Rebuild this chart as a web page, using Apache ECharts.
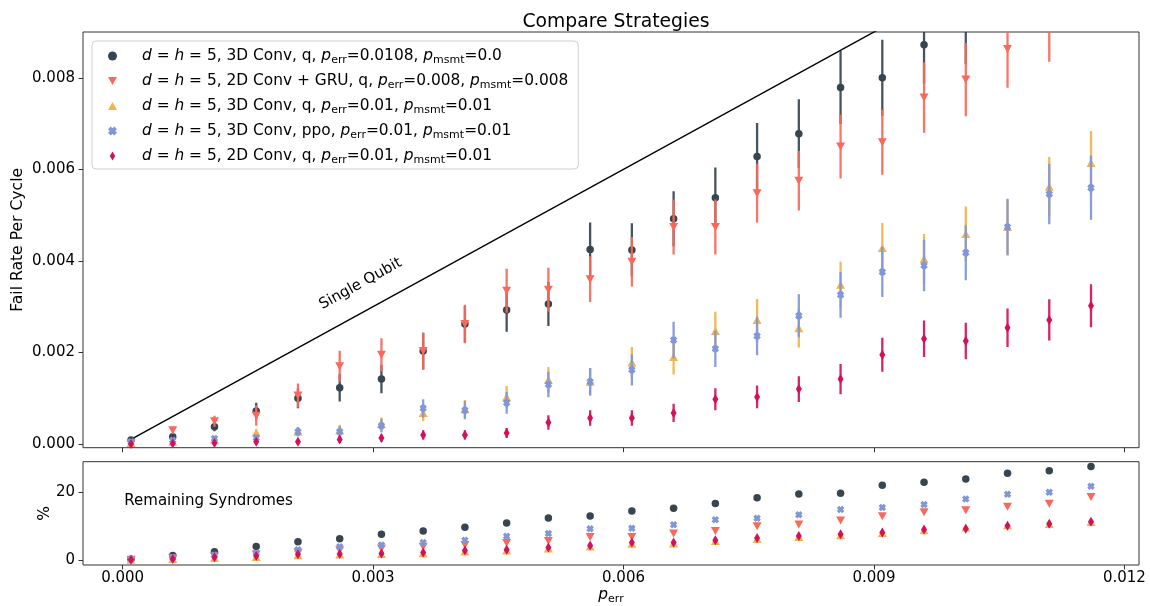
<!DOCTYPE html>
<html>
<head>
<meta charset="utf-8">
<script src="https://cdn.jsdelivr.net/npm/echarts@6/dist/echarts.min.js"></script>
<style>
html,body{margin:0;padding:0;background:#fff;}
#c{width:1150px;height:606px;}
</style>
</head>
<body>
<div id="c"></div>
<script>
// ---------------- data ----------------
const pErr = [0.0001,0.0006,0.0011,0.0016,0.0021,0.0026,0.0031,0.0036,0.0041,0.0046,0.0051,0.0056,
              0.0061,0.0066,0.0071,0.0076,0.0081,0.0086,0.0091,0.0096,0.0101,0.0106,0.0111,0.0116];

// fail rate per cycle (mean) and error (half-length of bar)
const failA = [0.00009,0.00016,0.00038,0.00072,0.00100,0.00123,0.00142,0.00203,0.00262,0.00293,0.00306,0.00425,
               0.00424,0.00492,0.00538,0.00628,0.00678,0.00779,0.00800,0.00872,0.00920,0.01010,0.01040,0.01080];
const errA  = [0.00003,0.00006,0.00010,0.00018,0.00022,0.00030,0.00031,0.00040,0.00040,0.00048,0.00048,0.00059,
               0.00058,0.00060,0.00066,0.00073,0.00075,0.00080,0.00083,0.00085,0.00090,0.00090,0.00095,0.00095];
const failB = [0.00002,0.00030,0.00050,0.00062,0.00106,0.00170,0.00195,0.00203,0.00262,0.00335,0.00337,0.00360,
               0.00398,0.00474,0.00474,0.00548,0.00575,0.00650,0.00659,0.00757,0.00796,0.00863,0.00920,0.01000];
const errB  = [0.00002,0.00008,0.00012,0.00022,0.00026,0.00034,0.00036,0.00040,0.00042,0.00048,0.00048,0.00050,
               0.00054,0.00060,0.00060,0.00064,0.00065,0.00070,0.00071,0.00077,0.00080,0.00085,0.00085,0.00090];
const failC = [0.00002,0.00005,0.00010,0.00025,0.00027,0.00030,0.00044,0.00068,0.00076,0.00103,0.00140,0.00136,
               0.00178,0.00190,0.00247,0.00271,0.00253,0.00348,0.00428,0.00404,0.00459,0.00474,0.00562,0.00614];
const errC  = [0.00002,0.00003,0.00005,0.00008,0.00010,0.00012,0.00014,0.00018,0.00020,0.00024,0.00028,0.00030,
               0.00034,0.00038,0.00042,0.00046,0.00042,0.00050,0.00055,0.00055,0.00060,0.00060,0.00065,0.00070];
const failD = [0.00005,0.00008,0.00012,0.00014,0.00027,0.00027,0.00040,0.00078,0.00074,0.00090,0.00130,0.00136,
               0.00162,0.00227,0.00208,0.00236,0.00280,0.00326,0.00376,0.00390,0.00418,0.00474,0.00546,0.00560];
const errD  = [0.00003,0.00004,0.00005,0.00007,0.00010,0.00012,0.00015,0.00020,0.00020,0.00024,0.00028,0.00030,
               0.00034,0.00040,0.00040,0.00042,0.00047,0.00050,0.00055,0.00056,0.00060,0.00062,0.00066,0.00070];
const failE = [0.00000,0.00001,0.00002,0.00005,0.00005,0.00010,0.00013,0.00020,0.00020,0.00024,0.00047,0.00057,
               0.00057,0.00068,0.00098,0.00103,0.00120,0.00142,0.00195,0.00230,0.00225,0.00254,0.00271,0.00302];
const errE  = [0.00001,0.00002,0.00003,0.00004,0.00005,0.00007,0.00008,0.00010,0.00010,0.00011,0.00016,0.00017,
               0.00017,0.00020,0.00024,0.00025,0.00028,0.00033,0.00037,0.00040,0.00040,0.00042,0.00045,0.00047];

// remaining syndromes (%)
const remA = [0.2,1.3,2.4,4.0,5.4,6.3,7.6,8.6,9.7,10.9,12.4,13.0,14.5,15.3,16.7,18.4,19.5,19.7,22.1,23.0,23.9,25.6,26.4,27.6];
const remB = [0.1,0.5,1.0,1.6,2.2,2.9,3.4,3.9,4.4,5.0,5.6,6.8,6.8,7.8,8.6,10.0,10.5,11.7,12.9,14.1,14.7,15.7,16.6,18.6];
const remC = [0.1,0.3,0.6,0.9,1.4,1.6,1.8,2.0,2.5,2.8,3.4,4.0,4.8,4.9,5.6,6.2,6.8,7.3,8.0,8.8,9.6,10.3,10.6,11.2];
const remD = [0.2,0.7,1.5,2.1,3.0,3.9,4.4,5.2,5.8,7.0,7.8,9.2,9.4,10.4,11.9,12.3,13.4,14.9,15.5,16.4,18.0,19.4,20.0,21.8];
const remE = [0.1,0.3,0.8,1.2,1.7,1.8,1.9,2.2,2.8,3.0,3.7,4.3,5.2,5.2,5.8,6.5,7.1,7.6,8.1,9.0,9.2,10.1,10.7,11.3];

const singleQubitX = [0.0001, 0.0116];
const singleQubitY = [0.0001, 0.0116];

const legendLabels = [
  '{i|d} = {i|h} = 5, 3D Conv, q, {i|p}{s|err}=0.0108, {i|p}{s|msmt}=0.0',
  '{i|d} = {i|h} = 5, 2D Conv + GRU, q, {i|p}{s|err}=0.008, {i|p}{s|msmt}=0.008',
  '{i|d} = {i|h} = 5, 3D Conv, q, {i|p}{s|err}=0.01, {i|p}{s|msmt}=0.01',
  '{i|d} = {i|h} = 5, 3D Conv, ppo, {i|p}{s|err}=0.01, {i|p}{s|msmt}=0.01',
  '{i|d} = {i|h} = 5, 2D Conv, q, {i|p}{s|err}=0.01, {i|p}{s|msmt}=0.01'
];
const xTicks = [0, 0.003, 0.006, 0.009, 0.012];
const yTicksTop = [0, 0.002, 0.004, 0.006, 0.008];
const yTicksBottom = [0, 20];

// ---------------- styling ----------------
const FONT = 'DejaVu Sans';
const FS = 15;
const colors = ['#36454f', '#f9695b', '#f2b34a', '#7f97d8', '#d3115b'];
const symbols = [
  'circle',
  'path://M0,0L10,0L5,9Z',
  'path://M5,0L10,9L0,9Z',
  'path://M3,0L5,2L7,0L10,3L8,5L10,7L7,10L5,8L3,10L0,7L2,5L0,3Z',
  'path://M3,0L6,5L3,10L0,5Z'
];
const symSizes = [7.5, [9,8], [9,8], 7.5, [6,10]];
const fails = [failA, failB, failC, failD, failE];
const errs = [errA, errB, errC, errD, errE];
const rems = [remA, remB, remC, remD, remE];
const keys = ['s0','s1','s2','s3','s4'];

const rich = {
  i: {fontStyle: 'italic', fontFamily: FONT, fontSize: 15.4, lineHeight: 20, color: '#000'},
  s: {fontFamily: FONT, fontSize: 11, lineHeight: 12, verticalAlign: 'bottom', color: '#000'}
};

const series = [];
series.push({
  type: 'line', xAxisIndex: 0, yAxisIndex: 0, silent: true, symbol: 'none', clip: true,
  data: singleQubitX.map((x, k) => [x, singleQubitY[k]]),
  lineStyle: {color: '#000', width: 1.4}, z: 1
});
for (let s = 0; s < 5; s++) {
  const bars = pErr.map((x, k) => [x, fails[s][k] - errs[s][k], fails[s][k] + errs[s][k]]);
  series.push({
    type: 'custom', name: keys[s], xAxisIndex: 0, yAxisIndex: 0, clip: true, silent: true,
    encode: {x: 0, y: [1, 2]}, itemStyle: {color: colors[s]},
    data: bars, z: 2 + s * 2,
    renderItem: (function(col){
      return function(params, api){
        const a = api.coord([api.value(0), api.value(1)]);
        const b = api.coord([api.value(0), api.value(2)]);
        return {type: 'line', shape: {x1: a[0], y1: a[1], x2: b[0], y2: b[1]},
                style: {stroke: col, lineWidth: 2.3, opacity: 0.92}};
      };
    })(colors[s])
  });
  series.push({
    type: 'scatter', name: keys[s], xAxisIndex: 0, yAxisIndex: 0, clip: true,
    symbol: symbols[s], symbolSize: symSizes[s],
    data: pErr.map((x, k) => [x, fails[s][k]]),
    itemStyle: {color: colors[s], opacity: 1}, z: 3 + s * 2
  });
  series.push({
    type: 'scatter', name: keys[s], xAxisIndex: 1, yAxisIndex: 1, clip: true,
    symbol: symbols[s], symbolSize: symSizes[s],
    data: pErr.map((x, k) => [x, rems[s][k]]),
    itemStyle: {color: colors[s], opacity: 1}, z: 3 + s * 2
  });
}

const axisTickStyle = {show: true, length: 4.5, inside: false, lineStyle: {color: '#333', width: 1}};
const tickLabel = {fontFamily: FONT, fontSize: FS, color: '#000'};
const noLine = {show: false, onZero: false};

const option = {
  backgroundColor: '#fff',
  animation: false,
  title: {
    text: 'Compare Strategies', left: 611, top: 8, textAlign: 'center',
    textStyle: {fontFamily: FONT, fontSize: 18.8, fontWeight: 'normal', color: '#000'}
  },
  legend: {
    orient: 'vertical', left: 92, top: 41,
    padding: [5, 10, 3, 16], itemGap: 5, itemWidth: 9, itemHeight: 9,
    backgroundColor: 'rgba(255,255,255,0.85)', borderColor: '#d0d0d0', borderWidth: 1, borderRadius: 4,
    data: keys.map((k, s) => ({name: k, icon: symbols[s], itemStyle: {color: colors[s]}})),
    formatter: function(name){ return legendLabels[keys.indexOf(name)]; },
    textStyle: {fontFamily: FONT, fontSize: 15.4, lineHeight: 20, color: '#000', padding: [0,0,0,20], rich: rich},
    selectedMode: false, z: 20
  },
  grid: [
    {left: 83, top: 32, width: 1056, height: 415.7, show: true, borderColor: '#333', borderWidth: 1, backgroundColor: 'transparent'},
    {left: 83, top: 461.7, width: 1056, height: 103.3, show: true, borderColor: '#333', borderWidth: 1, backgroundColor: 'transparent'}
  ],
  xAxis: [
    {type: 'value', gridIndex: 0, position: 'bottom', min: -0.000475, max: 0.012175, axisLine: noLine,
     axisTick: Object.assign({customValues: xTicks}, axisTickStyle),
     axisLabel: {show: false, customValues: xTicks}, splitLine: {show: false}},
    {type: 'value', gridIndex: 1, position: 'bottom', min: -0.000475, max: 0.012175, axisLine: noLine,
     axisTick: Object.assign({customValues: xTicks}, axisTickStyle),
     axisLabel: Object.assign({customValues: xTicks, margin: 6, formatter: v => v.toFixed(3)}, tickLabel),
     splitLine: {show: false},
     name: '{i|p}{s|err}', nameLocation: 'middle', nameGap: 20, nameMoveOverlap: false,
     nameTextStyle: {fontFamily: FONT, fontSize: FS, lineHeight: 20, color: '#000', rich: rich}}
  ],
  yAxis: [
    {type: 'value', gridIndex: 0, position: 'left', min: -0.00008, max: 0.009, axisLine: noLine,
     axisTick: Object.assign({customValues: yTicksTop}, axisTickStyle),
     axisLabel: Object.assign({customValues: yTicksTop, margin: 8, formatter: v => v.toFixed(3)}, tickLabel),
     splitLine: {show: false},
     name: 'Fail Rate Per Cycle', nameLocation: 'middle', nameGap: 57, nameMoveOverlap: false,
     nameTextStyle: {fontFamily: FONT, fontSize: 15.6, color: '#000'}},
    {type: 'value', gridIndex: 1, position: 'left', min: -1.48, max: 29.04, axisLine: noLine,
     axisTick: Object.assign({customValues: yTicksBottom}, axisTickStyle),
     axisLabel: Object.assign({customValues: yTicksBottom, margin: 8, formatter: v => String(v)}, tickLabel),
     splitLine: {show: false},
     name: '%', nameLocation: 'middle', nameGap: 30, nameMoveOverlap: false,
     nameTextStyle: {fontFamily: FONT, fontSize: 15.6, color: '#000'}}
  ],
  series: series
};

const chart = echarts.init(document.getElementById('c'), null, {renderer: 'canvas'});
chart.setOption(option);

// annotations
const P = (v) => chart.convertToPixel({xAxisIndex: 0, yAxisIndex: 0}, v);
const anchor = P([0.0030, 0.0030]);
const p1 = P([0.001, 0.001]), p2 = P([0.004, 0.004]);
const ang = Math.atan2(p1[1] - p2[1], p2[0] - p1[0]);
const labelPos = chart.convertToPixel({xAxisIndex: 1, yAxisIndex: 1}, [0.00002, 17.5]);
chart.setOption({
  graphic: [
    {type: 'text', x: anchor[0] - Math.sin(ang) * 26, y: anchor[1] - Math.cos(ang) * 26, rotation: ang,
     style: {text: 'Single Qubit', fontFamily: FONT, fontSize: FS, fill: '#000', align: 'center', verticalAlign: 'middle'}, z: 30},
    {type: 'text', x: labelPos[0], y: labelPos[1],
     style: {text: 'Remaining Syndromes', fontFamily: FONT, fontSize: FS, fill: '#000', align: 'left', verticalAlign: 'middle'}, z: 30}
  ]
});
</script>
</body>
</html>
